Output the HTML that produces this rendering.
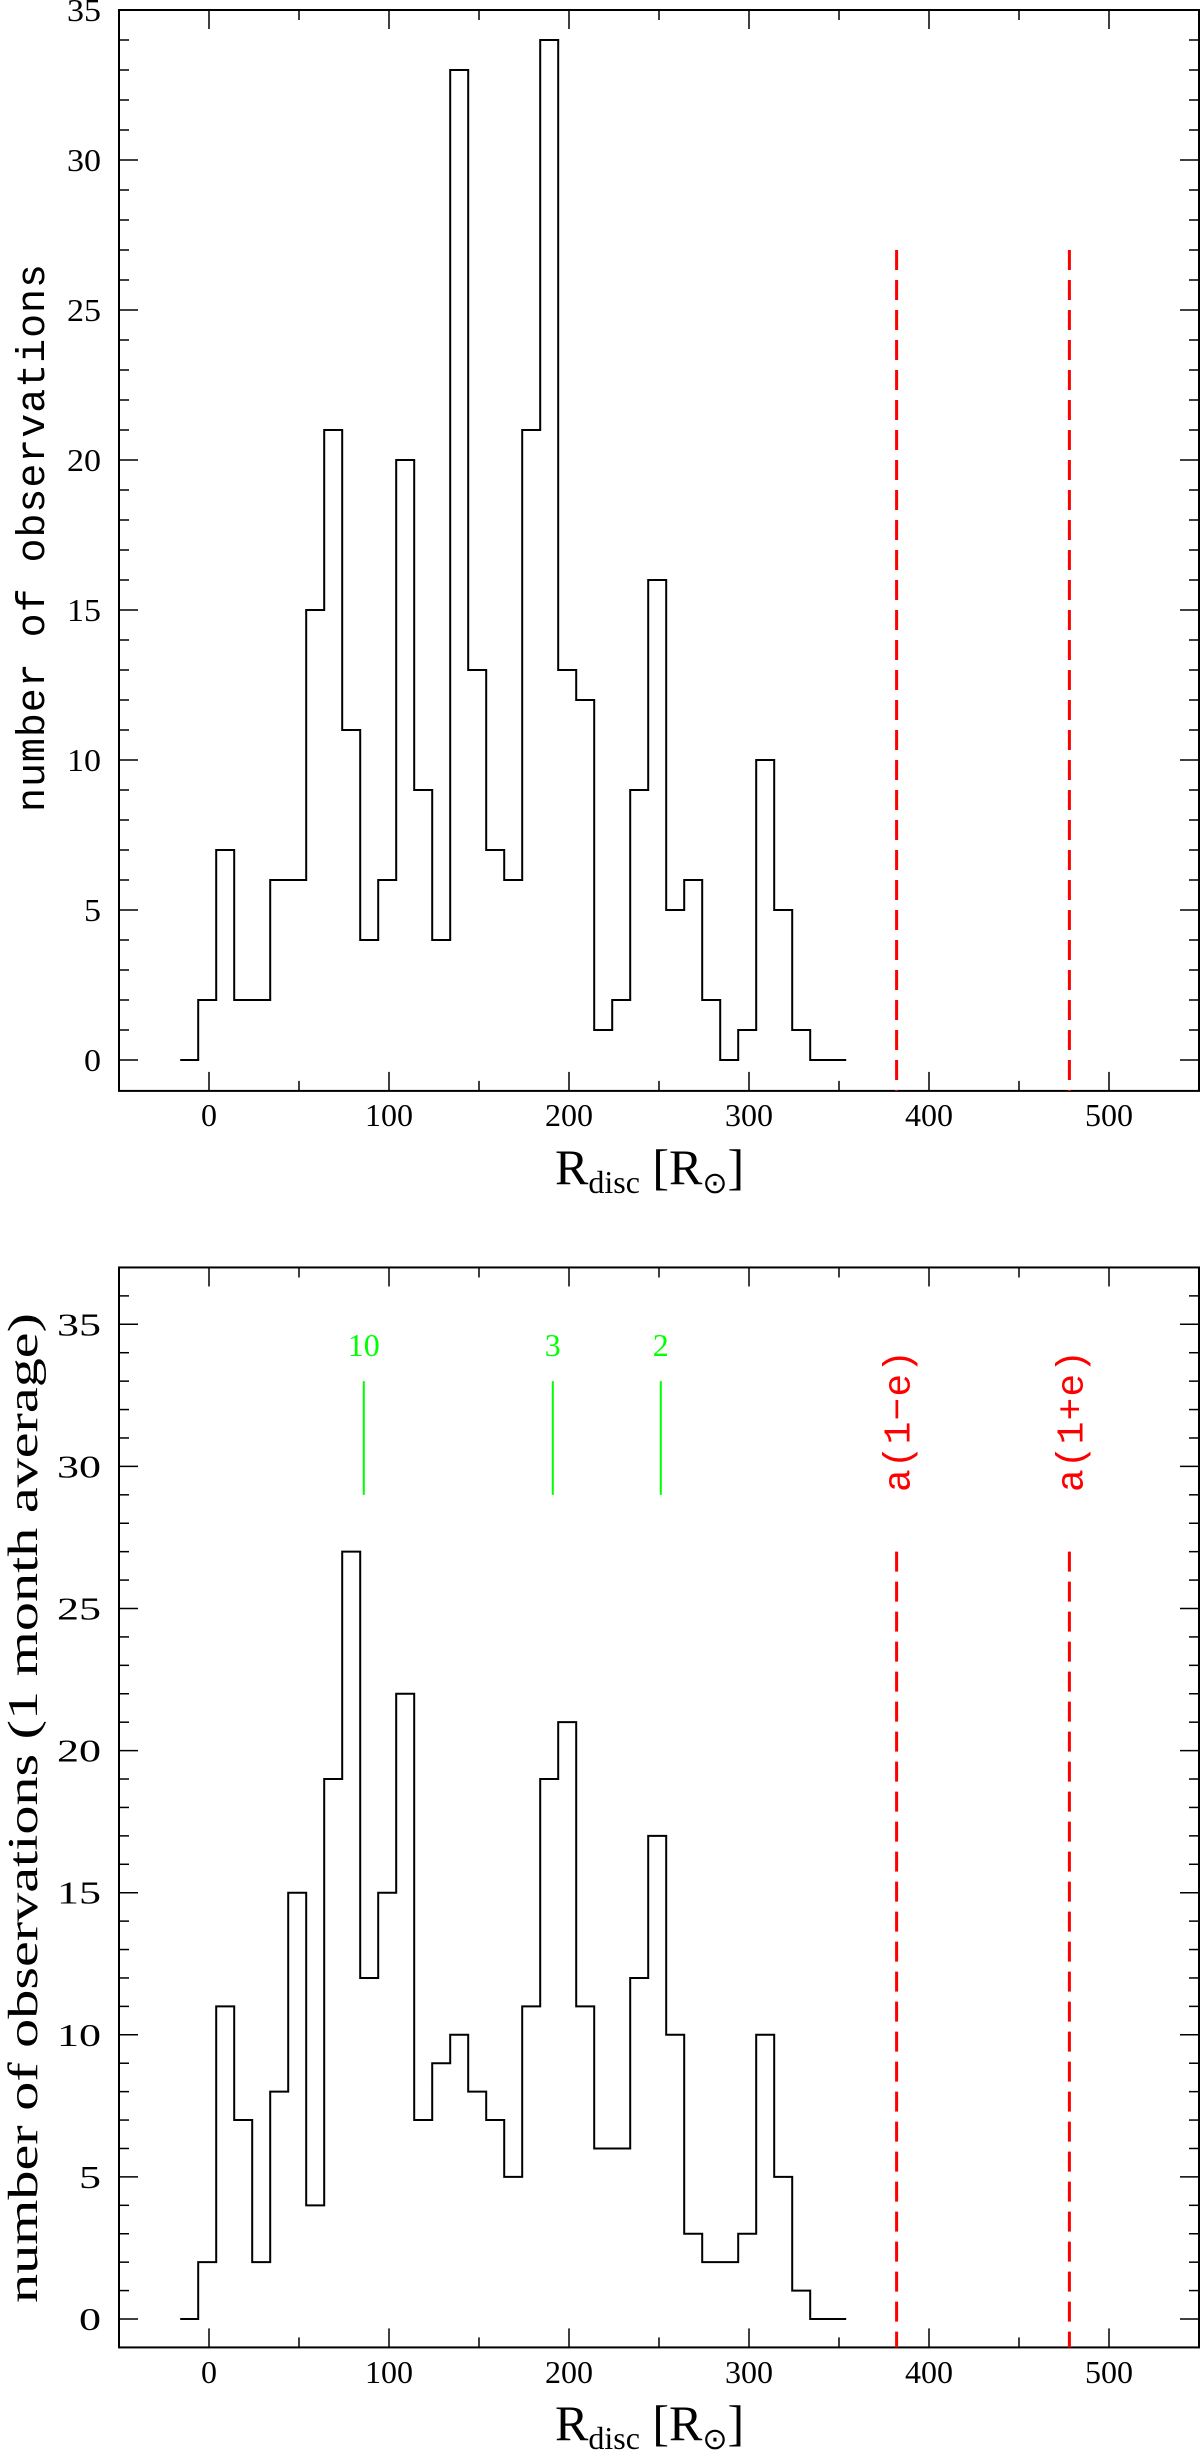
<!DOCTYPE html>
<html><head><meta charset="utf-8"><style>
html,body{margin:0;padding:0;background:#fff;}
svg{display:block;}
text{font-family:"Liberation Serif",serif;fill:#000;}
</style></head><body>
<svg id="chart" width="1200" height="2453" viewBox="0 0 1200 2453" xmlns="http://www.w3.org/2000/svg"></svg>
<script>
// Data
const binStart = -16;
const binWidth = 10;
const topCounts = [0,2,7,2,2,6,6,15,21,11,4,6,20,9,4,33,13,7,6,21,34,13,12,1,2,9,16,5,6,2,0,1,10,5,1,0,0];
const bottomCounts = [0,2,11,7,2,8,15,4,19,27,12,15,22,7,9,10,8,7,5,11,19,21,11,6,6,12,17,10,3,2,2,3,10,5,1,0,0];
const redLineX = [382, 478];
const redLabels = ["a(1\u2212e)", "a(1+e)"];
const greenX = [86, 191, 251];
const greenLabels = ["10", "3", "2"];
const xTicks = [0,100,200,300,400,500];
const topYTicks = [0,5,10,15,20,25,30,35];
const bottomYTicks = [0,5,10,15,20,25,30,35];

const NS = "http://www.w3.org/2000/svg";
const svg = document.getElementById('chart');
function mk(tag, attrs, parent){
  const e = document.createElementNS(NS, tag);
  for (const k in attrs) e.setAttribute(k, attrs[k]);
  (parent||svg).appendChild(e);
  return e;
}

const L = 119, R = 1199;
const xs = v => L + (v + 50) * 1.8;

function panel(cfg){
  const g = mk('g', {});
  
  
  const ys = v => cfg.y0 - (v) * cfg.ppu;
  const top = ys(cfg.ymax), bot = ys(cfg.ymin);
  const fr = mk('rect', {x:L, y:top, width:R-L, height:bot-top, fill:'none', stroke:'#000', 'stroke-width':2}, g);
  
  
  for (let v = -50; v <= 550; v += 50){
    const len = (v % 100 === 0) ? 19 : 10;
    const x = xs(v);
    if (x <= L+1 || x >= R-1) continue;
    mk('line', {x1:x, y1:bot, x2:x, y2:bot-len, stroke:'#000', 'stroke-width':1.5}, g);
    mk('line', {x1:x, y1:top, x2:x, y2:top+len, stroke:'#000', 'stroke-width':1.5}, g);
  }
  xTicks.forEach(v => {
    const s = String(v);
    const t = mk('text', {x:xs(v), y:cfg.xLabY, 'font-size':32, 'text-anchor':'middle', textLength:16*s.length, lengthAdjust:'spacingAndGlyphs'}, g);
    t.textContent = s;
    
    
  });
  for (let v = Math.ceil(cfg.ymin); v <= cfg.ymax; v++){
    const len = (v % 5 === 0) ? 19 : 10;
    const y = ys(v);
    if (y <= top+1 || y >= bot-1) continue;
    mk('line', {x1:L, y1:y, x2:L+len, y2:y, stroke:'#000', 'stroke-width':1.5}, g);
    mk('line', {x1:R, y1:y, x2:R-len, y2:y, stroke:'#000', 'stroke-width':1.5}, g);
  }
  cfg.yTicks.forEach(v => {
    const s = String(v);
    const t = mk('text', {x:101, y:ys(v)+11, 'font-size':32, 'text-anchor':'end', textLength:cfg.yDigitW*s.length, lengthAdjust:'spacingAndGlyphs'}, g);
    t.textContent = s;
    
    
  });
  let d = '';
  cfg.counts.forEach((c, i) => {
    const x0 = xs(binStart + i*binWidth), x1 = xs(binStart + (i+1)*binWidth);
    d += (i === 0 ? 'M' : 'L') + x0 + ' ' + ys(c) + ' L' + x1 + ' ' + ys(c) + ' ';
  });
  const h = mk('path', {d:d, fill:'none', stroke:'#000', 'stroke-width':2}, g);
  
  
  redLineX.forEach(v => {
    const ln = mk('line', {x1:xs(v), y1:ys(27), x2:xs(v), y2:bot, stroke:'#f00', 'stroke-width':3, 'stroke-dasharray':'20 10'}, g);
    
    
  });
  const yt = mk('text', {x:0, y:0, 'font-size':cfg.ytSize, style:'font-family:'+cfg.ytFont, 'text-anchor':'middle', textLength:cfg.ytLen, lengthAdjust:cfg.ytAdjust, transform:'translate('+cfg.ytX+','+cfg.ytY+') rotate(-90)'}, g);
  yt.textContent = cfg.yTitle;
  
  
  const xt = mk('text', {x:555, y:cfg.xtY, 'font-size':50}, g);
  
  
  const s1 = mk('tspan', {}, xt); s1.textContent = 'R';
  const s2 = mk('tspan', {'font-size':32, dy:9}, xt); s2.textContent = 'disc';
  const s3 = mk('tspan', {dy:-9}, xt); s3.textContent = ' [R';
  const s4 = mk('tspan', {'font-size':30, dy:9}, xt); s4.textContent = '\u2299';
  const s5 = mk('tspan', {dy:-9}, xt); s5.textContent = ']';
  return ys;
}

panel({name:'top-panel', y0:1060, ppu:30, ymin:-1.03, ymax:35, counts:topCounts, yTicks:topYTicks, yDigitW:17,
  xLabY:1126, xtY:1184, yTitle:'number of observations', ytSize:40, ytFont:'"Liberation Mono", monospace', ytLen:548, ytAdjust:'spacing', ytX:44, ytY:538});
const ysB = panel({name:'bottom-panel', y0:2319, ppu:28.42, ymin:-1, ymax:37, counts:bottomCounts, yTicks:bottomYTicks, yDigitW:22,
  xLabY:2383, xtY:2440, yTitle:'number of observations (1 month average)', ytSize:42, ytFont:'"Liberation Serif", serif', ytLen:990, ytAdjust:'spacingAndGlyphs', ytX:37, ytY:1808});

greenX.forEach((v, i) => {
  const ln = mk('line', {x1:xs(v), y1:ysB(33), x2:xs(v), y2:ysB(29), stroke:'#0f0', 'stroke-width':2});
  
  
  const s = greenLabels[i];
  const t = mk('text', {x:xs(v), y:ysB(33)-25, 'font-size':32, 'text-anchor':'middle', textLength:16*s.length, lengthAdjust:'spacingAndGlyphs', style:'fill:#0f0'});
  t.textContent = s;
  
  
});
redLabels.forEach((s, i) => {
  const x = xs(redLineX[i]) + 13;
  const t = mk('text', {x:0, y:0, 'font-size':38, 'text-anchor':'middle', textLength:142, lengthAdjust:'spacing', style:'fill:#f00;font-family:"Liberation Mono",monospace', transform:'translate('+x+',1421) rotate(-90)'});
  t.textContent = s;
  
  
});
</script>
</body></html>
